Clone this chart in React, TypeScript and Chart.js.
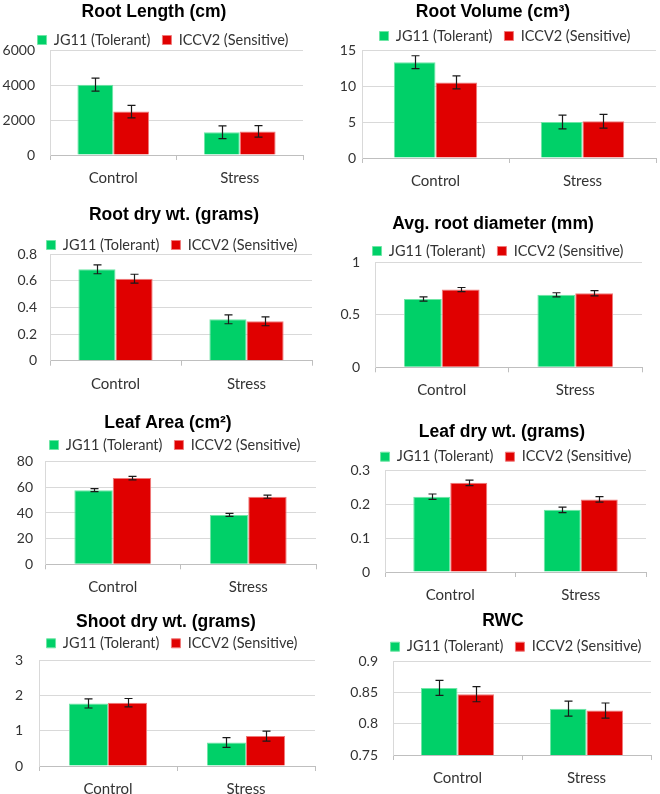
import React, { useEffect, useRef } from "react";
import { Chart, registerables } from "chart.js";

Chart.register(...registerables);

// ---------- data ----------
const categories = ["Control", "Stress"];
const seriesNames = ["JG11 (Tolerant)", "ICCV2 (Sensitive)"];

const rootLengthJG11 = [4020, 1300];
const rootLengthJG11Err = [370, 360];
const rootLengthICCV2 = [2480, 1350];
const rootLengthICCV2Err = [360, 330];
const rootLengthTicks = [0, 2000, 4000, 6000];

const rootVolumeJG11 = [13.3, 5.0];
const rootVolumeJG11Err = [0.9, 0.95];
const rootVolumeICCV2 = [10.5, 5.1];
const rootVolumeICCV2Err = [0.9, 0.95];
const rootVolumeTicks = [0, 5, 10, 15];

const rootDryJG11 = [0.685, 0.31];
const rootDryJG11Err = [0.033, 0.033];
const rootDryICCV2 = [0.615, 0.295];
const rootDryICCV2Err = [0.033, 0.033];
const rootDryTicks = [0, 0.2, 0.4, 0.6, 0.8];

const rootDiamJG11 = [0.65, 0.69];
const rootDiamJG11Err = [0.02, 0.02];
const rootDiamICCV2 = [0.74, 0.705];
const rootDiamICCV2Err = [0.02, 0.025];
const rootDiamTicks = [0, 0.5, 1];

const leafAreaJG11 = [57.8, 38.5];
const leafAreaJG11Err = [1.2, 1.2];
const leafAreaICCV2 = [67.2, 52.7];
const leafAreaICCV2Err = [1.3, 1.2];
const leafAreaTicks = [0, 20, 40, 60, 80];

const leafDryJG11 = [0.223, 0.184];
const leafDryJG11Err = [0.008, 0.008];
const leafDryICCV2 = [0.264, 0.215];
const leafDryICCV2Err = [0.008, 0.008];
const leafDryTicks = [0, 0.1, 0.2, 0.3];

const shootDryJG11 = [1.78, 0.67];
const shootDryJG11Err = [0.13, 0.14];
const shootDryICCV2 = [1.8, 0.85];
const shootDryICCV2Err = [0.12, 0.14];
const shootDryTicks = [0, 1, 2, 3];

const rwcJG11 = [0.857, 0.824];
const rwcJG11Err = [0.012, 0.012];
const rwcICCV2 = [0.847, 0.821];
const rwcICCV2Err = [0.012, 0.012];
const rwcTicks = [0.75, 0.8, 0.85, 0.9];

// ---------- styles ----------
const GREEN = "#00d068";
const GREEN_EDGE = "#6fe6a6";
const RED = "#e00000";
const RED_EDGE = "#f07a7a";
const TEXT = "#333333";
const GRID = "#d9d9d9";
const AXIS = "#bfbfbf";
const BODY_FONT = "Lato, 'Open Sans', sans-serif";
const TITLE_FONT = "'Liberation Sans', Arial, sans-serif";
const LEGEND_PAD = 12;
const LEGEND_FONT = 14.5;

type PanelCfg = {
  title: string;
  jg: number[]; jgErr: number[]; ic: number[]; icErr: number[];
  ticks: number[];
  cx: number; cy: number; cw: number; ch: number;
  L: number; T: number; R: number; B: number;
  titleX: number; titleY: number; legendX: number; legendY: number;
  yPad: number;
};

const panels: PanelCfg[] = [
  { title: "Root Length (cm)", jg: rootLengthJG11, jgErr: rootLengthJG11Err, ic: rootLengthICCV2, icErr: rootLengthICCV2Err, ticks: rootLengthTicks,
    cx: 0, cy: 0, cw: 330, ch: 200, L: 50, T: 50, R: 303, B: 155, titleX: 154, titleY: 12.3, legendX: 163, legendY: 40, yPad: 15 },
  { title: "Root Volume (cm³)", jg: rootVolumeJG11, jgErr: rootVolumeJG11Err, ic: rootVolumeICCV2, icErr: rootVolumeICCV2Err, ticks: rootVolumeTicks,
    cx: 330, cy: 0, cw: 330, ch: 200, L: 362, T: 50, R: 656, B: 158, titleX: 493, titleY: 11.7, legendX: 505, legendY: 36, yPad: 6 },
  { title: "Root dry wt. (grams)", jg: rootDryJG11, jgErr: rootDryJG11Err, ic: rootDryICCV2, icErr: rootDryICCV2Err, ticks: rootDryTicks,
    cx: 0, cy: 200, cw: 330, ch: 200, L: 50, T: 254, R: 312, B: 360.7, titleX: 174, titleY: 215, legendX: 172, legendY: 245, yPad: 13 },
  { title: "Avg. root diameter (mm)", jg: rootDiamJG11, jgErr: rootDiamJG11Err, ic: rootDiamICCV2, icErr: rootDiamICCV2Err, ticks: rootDiamTicks,
    cx: 330, cy: 200, cw: 330, ch: 200, L: 375, T: 262.3, R: 642, B: 367.3, titleX: 493, titleY: 224, legendX: 498, legendY: 251, yPad: 15 },
  { title: "Leaf Area (cm²)", jg: leafAreaJG11, jgErr: leafAreaJG11Err, ic: leafAreaICCV2, icErr: leafAreaICCV2Err, ticks: leafAreaTicks,
    cx: 0, cy: 400, cw: 330, ch: 200, L: 45, T: 461.7, R: 316, B: 564.3, titleX: 168, titleY: 422.7, legendX: 175, legendY: 445, yPad: 12 },
  { title: "Leaf dry wt. (grams)", jg: leafDryJG11, jgErr: leafDryJG11Err, ic: leafDryICCV2, icErr: leafDryICCV2Err, ticks: leafDryTicks,
    cx: 330, cy: 400, cw: 330, ch: 200, L: 385, T: 470.7, R: 646, B: 572, titleX: 502, titleY: 431.7, legendX: 506, legendY: 456.7, yPad: 15 },
  { title: "Shoot dry wt. (grams)", jg: shootDryJG11, jgErr: shootDryJG11Err, ic: shootDryICCV2, icErr: shootDryICCV2Err, ticks: shootDryTicks,
    cx: 0, cy: 600, cw: 330, ch: 194, L: 39, T: 660.7, R: 315, B: 766, titleX: 166, titleY: 621.7, legendX: 172, legendY: 643.3, yPad: 16 },
  { title: "RWC", jg: rwcJG11, jgErr: rwcJG11Err, ic: rwcICCV2, icErr: rwcICCV2Err, ticks: rwcTicks,
    cx: 330, cy: 600, cw: 330, ch: 194, L: 393, T: 661, R: 651, B: 755, titleX: 503, titleY: 620.7, legendX: 516, legendY: 646.7, yPad: 15 },
];

// ---------- plugins ----------
const placeBoxes = {
  id: "placeBoxes",
  afterLayout(chart: any, _args: any, opts: any) {
    const t = chart.titleBlock;
    if (t && opts.titleX != null) {
      const dx = opts.titleX - (t.left + t.right) / 2;
      t.left += dx; t.right += dx;
    }
    const l = chart.legend;
    if (l && opts.legendX != null) {
      const dx = opts.legendX - (l.left + l.right) / 2;
      l.left += dx; l.right += dx;
    }
  },
};

const errorBars = {
  id: "errorBars",
  afterDatasetsDraw(chart: any) {
    const ctx = chart.ctx;
    const y = chart.scales.y;
    ctx.save();
    ctx.strokeStyle = "#1a1a1a";
    ctx.lineWidth = 1.2;
    chart.data.datasets.forEach((ds: any, i: number) => {
      const meta = chart.getDatasetMeta(i);
      meta.data.forEach((el: any, j: number) => {
        const v = ds.data[j];
        const e = ds.errors[j];
        const x = Math.round(el.x) + 0.5;
        const yt = y.getPixelForValue(v + e);
        const yb = y.getPixelForValue(v - e);
        ctx.beginPath();
        ctx.moveTo(x, yt); ctx.lineTo(x, yb);
        ctx.moveTo(x - 4, yt); ctx.lineTo(x + 4, yt);
        ctx.moveTo(x - 4, yb); ctx.lineTo(x + 4, yb);
        ctx.stroke();
      });
    });
    ctx.restore();
  },
};

function Panel({ p }: { p: PanelCfg }) {
  const ref = useRef<HTMLCanvasElement>(null);
  useEffect(() => {
    const canvas = ref.current!;
    const titlePadTop = p.titleY - p.cy - 8.75;
    const legendTop = p.legendY - 7.25 - LEGEND_PAD;
    const titlePadBottom = legendTop - (p.titleY + 8.75);
    const legendMaxH = p.T - legendTop;
    const chart = new Chart(canvas, {
      type: "bar",
      data: {
        labels: categories,
        datasets: [
          { label: seriesNames[0], data: p.jg, errors: p.jgErr, backgroundColor: GREEN, borderColor: GREEN_EDGE, borderWidth: 1 } as any,
          { label: seriesNames[1], data: p.ic, errors: p.icErr, backgroundColor: RED, borderColor: RED_EDGE, borderWidth: 1 } as any,
        ],
      },
      options: {
        responsive: false,
        animation: false,
        devicePixelRatio: 1,
        layout: { padding: { left: 0, top: 0, bottom: 0, right: p.cx + p.cw - p.R } },
        datasets: { bar: { barPercentage: 1, categoryPercentage: 0.567 } },
        scales: {
          x: {
            grid: { drawOnChartArea: false, drawTicks: true, tickLength: 5, color: AXIS, offset: true },
            border: { display: true, color: AXIS },
            ticks: { color: TEXT, font: { family: BODY_FONT, size: 15 }, padding: 9 },
            afterFit: (s: any) => { s.height = p.cy + p.ch - p.B; },
          },
          y: {
            min: p.ticks[0],
            max: p.ticks[p.ticks.length - 1],
            grid: { color: GRID, drawTicks: false },
            border: { display: true, color: GRID },
            afterBuildTicks: (s: any) => { s.ticks = p.ticks.map((v) => ({ value: v })); },
            ticks: {
              color: TEXT,
              font: { family: BODY_FONT, size: 14 },
              padding: p.yPad,
              callback: (v: any) => String(+Number(v).toFixed(4)),
            },
            afterFit: (s: any) => { s.width = p.L - p.cx; },
          },
        },
        plugins: {
          title: {
            display: true,
            text: p.title,
            color: "#000000",
            font: { family: TITLE_FONT, size: 17.5, weight: "bold", lineHeight: 1 },
            padding: { top: titlePadTop, bottom: titlePadBottom },
          },
          legend: {
            display: true,
            position: "top",
            maxHeight: legendMaxH,
            labels: {
              color: TEXT,
              boxWidth: 9,
              boxHeight: 9,
              padding: LEGEND_PAD,
              font: { family: BODY_FONT, size: LEGEND_FONT },
            },
          },
          tooltip: { enabled: false },
          placeBoxes: { titleX: p.titleX - p.cx, legendX: p.legendX - p.cx },
        } as any,
      },
      plugins: [placeBoxes, errorBars],
    });
    return () => chart.destroy();
  }, [p]);
  return (
    <canvas
      ref={ref}
      width={p.cw}
      height={p.ch}
      style={{ position: "absolute", left: p.cx, top: p.cy, width: p.cw, height: p.ch }}
    />
  );
}

export default function App() {
  return (
    <div style={{ position: "fixed", left: 0, top: 0, width: 660, height: 794, overflow: "hidden", background: "#ffffff" }}>
      {panels.map((p, i) => (
        <Panel key={i} p={p} />
      ))}
    </div>
  );
}
